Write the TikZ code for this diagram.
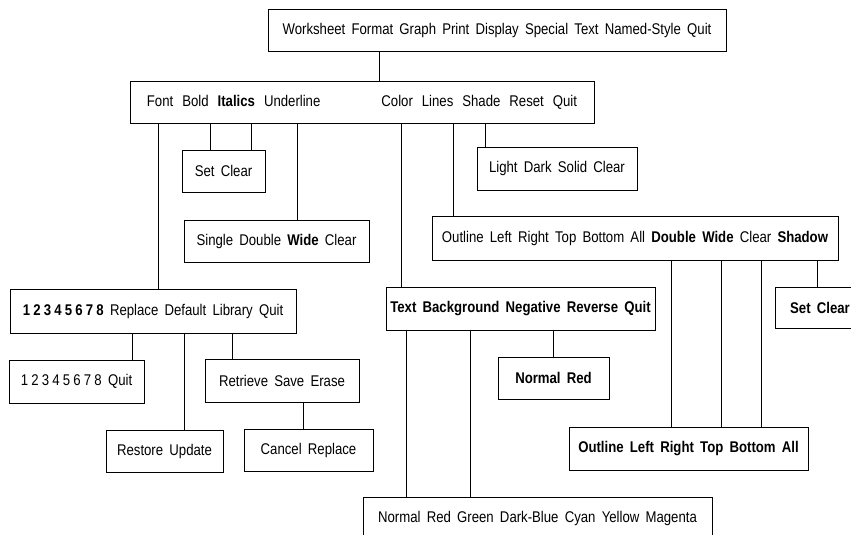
\documentclass[tikz,border=0pt]{standalone}
\usepackage{fontspec}
\setmainfont{Liberation Sans}[FakeStretch=0.85,WordSpace=1.7]
\usetikzlibrary{positioning,calc}

\newcommand\digitrow{{\spaceskip=3.2pt 1 2 3 4 5 6 7 8}}

\tikzset{
  menubox/.style={draw,line width=1pt,minimum height=42pt,inner sep=0pt,
    font=\fontsize{15.5}{18}\selectfont},
  wire/.style={line width=1pt}
}

\begin{document}
\begin{tikzpicture}[x=1pt,y=-1pt]
  \clip (0,0) rectangle (851,535);
  \fill[white] (0,0) rectangle (851,535);
  % main menu and the format menu
  \node[menubox,minimum width=458pt] (top) at (497,30.5){Worksheet Format Graph Print Display Special Text Named-Style Quit};
  \node[menubox,minimum width=464pt] (fmt) at (362,102){\spaceskip=9pt Font Bold \textbf{Italics} Underline\hspace{52pt} Color Lines Shade Reset Quit};
  % second level
  \node[menubox,minimum width=83pt] (setclr) at (223.5,171){Set Clear};
  \node[menubox,minimum width=185pt] (single) at (276.5,241){Single Double \textbf{Wide} Clear};
  \node[menubox,minimum width=160pt,minimum height=43pt] (light) at (557,168.5){Light Dark Solid Clear};
  \node[menubox,minimum width=406pt,minimum height=44pt] (outline) at (635,238){Outline Left Right Top Bottom All \textbf{Double Wide} Clear \textbf{Shadow}};
  % font branch
  \node[menubox,minimum width=286pt,minimum height=44pt] (font) at (153,311){\textbf{\digitrow} Replace Default Library Quit};
  \node[menubox,minimum width=135pt,minimum height=43pt] (digits) at (76.5,381.5){\digitrow{} Quit};
  \node[menubox,minimum width=154pt,minimum height=43pt] (retr) at (282,380.5){Retrieve Save Erase};
  \node[menubox,minimum width=117pt] (restore) at (164.5,451){Restore Update};
  \node[menubox,minimum width=129pt] (cancel) at (308.5,450){Cancel Replace};
  % color branch
  \node[menubox,minimum width=269pt,minimum height=43pt] (text) at (520.5,308.5){\textbf{Text Background Negative Reverse Quit}};
  \node[menubox,minimum width=111pt] (normal) at (553.5,378){\textbf{Normal Red}};
  \node[menubox,minimum width=349pt] (colors) at (537.5,518){Normal Red Green Dark-Blue Cyan Yellow Magenta};
  % lines branch
  \node[menubox,minimum width=239pt,minimum height=43pt] (outlinetwo) at (688.5,448.5){\textbf{Outline Left Right Top Bottom All}};
  \node[menubox,minimum width=90pt,minimum height=41pt] (setclrtwo) at (820,307.5){\textbf{Set Clear}};
  % connectors
  \foreach \x/\a/\b in {379/top/fmt,158/fmt/font,210/fmt/setclr,251/fmt/setclr,
      297/fmt/single,401/fmt/text,453/fmt/outline,485/fmt/light,
      132/font/digits,184/font/restore,232/font/retr,303/retr/cancel,
      406/text/colors,470/text/colors,553/text/normal,
      671/outline/outlinetwo,721/outline/outlinetwo,761/outline/outlinetwo,817/outline/setclrtwo}
    \draw[wire] (\x,0 |- \a.south) -- (\x,0 |- \b.north);
\end{tikzpicture}
\end{document}
